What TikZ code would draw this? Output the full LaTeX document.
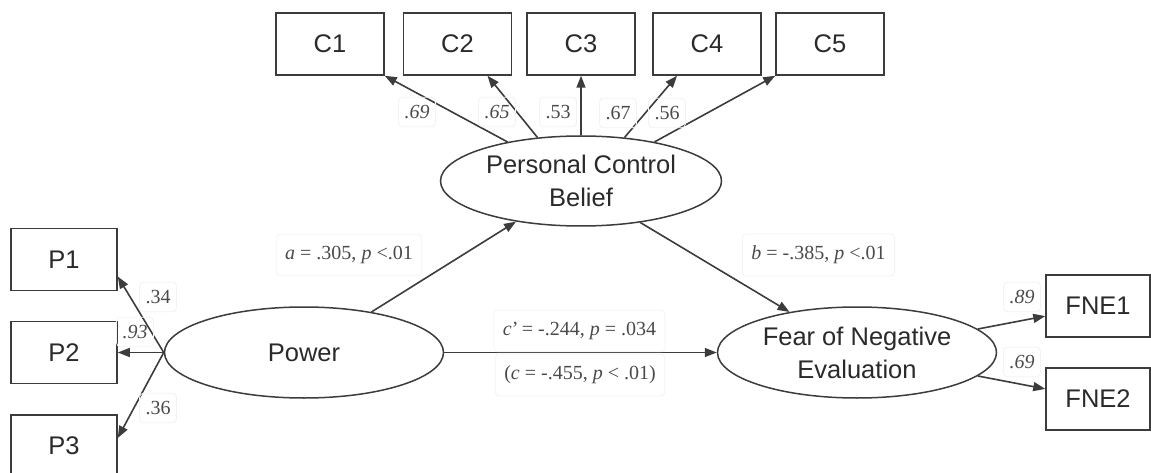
\documentclass[tikz,border=0pt]{standalone}
\usepackage{fontspec}
\setmainfont{Liberation Serif}
\newfontfamily\boxfont{Liberation Sans}
\usetikzlibrary{shapes.geometric,arrows.meta,calc}
\definecolor{lin}{HTML}{3C3C3C}
\definecolor{txt}{HTML}{2A2A2A}
\definecolor{lab}{HTML}{4A4A4A}
\definecolor{frm}{HTML}{F2F2F2}
\begin{document}
\begin{tikzpicture}[x=1pt,y=-1pt,
 obs/.style={draw=lin,line width=1.5pt,minimum width=108pt,minimum height=62pt,inner sep=0pt,text=txt,font=\boxfont\fontsize{25.5}{30}\selectfont},
 lat/.style={ellipse,draw=lin,line width=1.5pt,minimum width=279pt,minimum height=91pt,inner sep=0pt,text=txt,align=center,font=\boxfont\fontsize{25.5}{33}\selectfont},
 pth/.style={draw=lin,line width=1.6pt,-{Triangle[length=12pt,width=9pt]}},
 lbl/.style={draw=frm,line width=0.8pt,rounded corners=4pt,text=lab,inner xsep=9pt,inner ysep=12pt,font=\fontsize{20}{24}\selectfont},
 ld/.style={lbl,inner xsep=6pt,inner ysep=8pt}
]
\useasboundingbox (0,0) rectangle (1151,473);
% observed indicators
\node[obs] (c1) at (330,44) {C1};
\node[obs] (c2) at (457.5,44) {C2};
\node[obs] (c3) at (581,44) {C3};
\node[obs] (c4) at (707,44) {C4};
\node[obs] (c5) at (830,44) {C5};
\node[obs,minimum width=106pt] (p1) at (64,259.5) {P1};
\node[obs,minimum width=106pt] (p2) at (64,352.5) {P2};
\node[obs,minimum width=106pt] (p3) at (64,446) {P3};
\node[obs,minimum width=104pt] (fne1) at (1098,306) {FNE1};
\node[obs,minimum width=104pt] (fne2) at (1098,399) {FNE2};
% latent variables
\node[lat] (pow) at (304,352.5) {Power};
\node[lat,minimum width=281pt,minimum height=90pt] (pcb) at (581,181) {Personal Control\\Belief};
\node[lat] (fne) at (857,352.5) {Fear of Negative\\Evaluation};
% paths
\draw[pth] (pow.west) -- ($(p1.east)+(0,17)$);
\draw[pth] (pow.west) -- (p2.east);
\draw[pth] (pow.west) -- ($(p3.east)+(0,-8)$);
\draw[pth] (pcb.152) -- (c1.south east);
\draw[pth] (pcb.135) -- ($(c2.south)+(30,0)$);
\draw[pth] (pcb.90) -- (c3.south);
\draw[pth] (pcb.45) -- ($(c4.south)+(-30,0)$);
\draw[pth] (pcb.28) -- (c5.south west);
\draw[pth] (pow.31) -- (pcb.212);
\draw[pth] (pcb.-35) -- (fne.149);
\draw[pth] (pow.east) -- (fne.west);
\draw[pth] (fne.11) -- (fne1);
\draw[pth] (fne.-11) -- (fne2);
% loadings
\node[ld] (l34) at (158,297) {.34};
\node[ld] (l93) at (135,332) {\textit{.93}};
\node[ld] (l36) at (158,408) {.36};
\node[ld] (lc1) at (417,112) {\textit{.69}};
\node[ld] (lc2) at (497,112) {\textit{.65}};
\node[ld] (lc3) at (558,112) {.53};
\node[ld] (lc4) at (618,113) {.67};
\node[ld] (lc5) at (667,113) {.56};
\node[ld] (lf1) at (1022,297) {\textit{.89}};
\node[ld] (lf2) at (1022,362) {\textit{.69}};
% path coefficients
\node[lbl] (la) at (349,255) {\textit{a} = .305, \textit{p} <.01};
\node[lbl] (lb) at (818.5,255) {\textit{b} = -.385, \textit{p} <.01};
\node[lbl] (lcp) at (579.5,331) {\textit{c}'\,= -.244, \textit{p} = .034};
\node[lbl] (lc) at (580,375) {(\textit{c} = -.455, \textit{p} < .01)};
\end{tikzpicture}
\end{document}
